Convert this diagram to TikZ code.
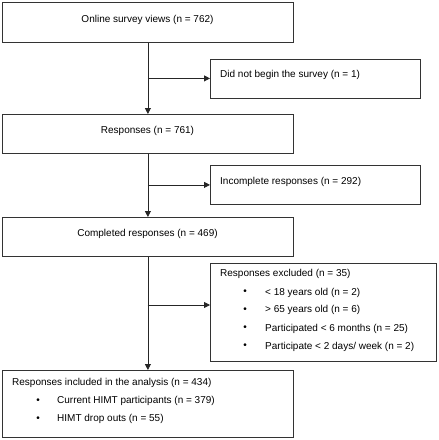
\documentclass[tikz,border=0pt]{standalone}
\usepackage{fontspec}
\setmainfont{Liberation Sans}
\usetikzlibrary{arrows.meta}

\begin{document}
\begin{tikzpicture}[
  x=1pt,y=-1pt,
  box/.style={draw=black!80,line width=.8pt,anchor=north west,inner sep=0pt},
  txt/.style={font=\fontsize{10}{12}\selectfont,inner sep=0pt},
  link/.style={draw=black!85,line width=.8pt,-{Triangle[length=6pt,width=6pt]}}
]
  \useasboundingbox (0,0) rectangle (439,440);

  % main column
  \node[box,minimum width=291pt,minimum height=40pt] (views) at (2,2) {};
  \node[txt] (viewstxt) at (147.5,20) {Online survey views (n = 762)};
  \node[box,minimum width=291pt,minimum height=39pt] (resp) at (2,114) {};
  \node[txt] (resptxt) at (147.5,131) {Responses (n = 761)};
  \node[box,minimum width=291pt,minimum height=39pt] (compl) at (2,217) {};
  \node[txt] (compltxt) at (147.5,234) {Completed responses (n = 469)};
  \node[box,minimum width=291pt,minimum height=67pt] (incl) at (2,370) {};
  \node[txt,anchor=west] (incltxt) at (12,383) {Responses included in the analysis (n = 434)};
  \foreach \y/\name in {401/{Current HIMT participants (n = 379)},419/{HIMT drop outs (n = 55)}}
  {
    \node[txt] at (38,\y) {•};
    \node[txt,anchor=west] at (57,\y) {\name};
  }

  % side boxes
  \node[box,minimum width=210pt,minimum height=39pt] (nobegin) at (210,58.5) {};
  \node[txt,anchor=west] (nobegintxt) at (220,75) {Did not begin the survey (n = 1)};
  \node[box,minimum width=210pt,minimum height=39pt] (incompl) at (210,165) {};
  \node[txt,anchor=west] (incompltxt) at (220,182) {Incomplete responses (n = 292)};
  \node[box,minimum width=225.5pt,minimum height=98.5pt] (excl) at (210,262.5) {};
  \node[txt,anchor=west] (excltxt) at (220,274) {Responses excluded (n = 35)};
  \foreach \y/\name in {292.5/{< 18 years old (n = 2)},310/{> 65 years old (n = 6)},
    328.5/{Participated < 6 months (n = 25)},346.5/{Participate < 2 days/ week (n = 2)}}
  {
    \node[txt] at (245,\y) {•};
    \node[txt,anchor=west] at (265,\y) {\name};
  }

  % flow
  \draw[link] (views) -- (resp);
  \draw[link] (resp) -- (compl);
  \draw[link] (compl) -- (incl);
  \coordinate (j1) at (views.south |- nobegin.west);
  \coordinate (j2) at (resp.south |- incompl.west);
  \coordinate (j3) at (147.5,305);
  \draw[link] (j1) -- (nobegin.west);
  \draw[link] (j2) -- (incompl.west);
  \draw[link] (j3) -- (j3 -| excl.west);
\end{tikzpicture}
\end{document}
